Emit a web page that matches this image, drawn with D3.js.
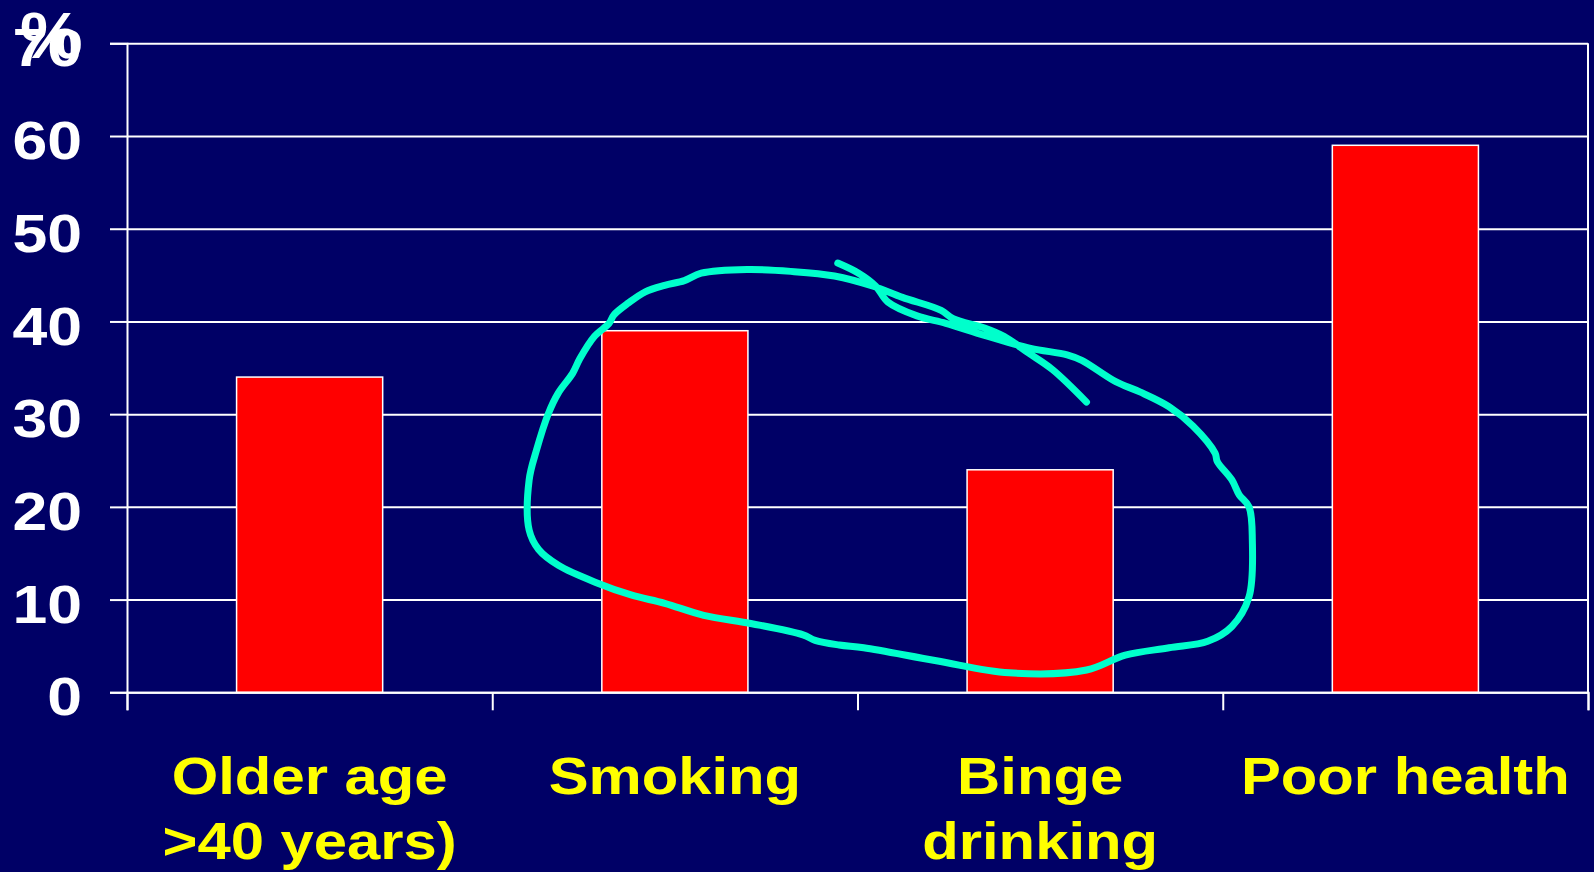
<!DOCTYPE html>
<html>
<head>
<meta charset="utf-8">
<script src="https://cdn.jsdelivr.net/npm/d3@7"></script>
<style>
  html, body { margin: 0; padding: 0; background: #000066; overflow: hidden; }
  text { font-family: "Liberation Sans", Arial, sans-serif; font-weight: bold; }
</style>
</head>
<body>
<svg id="chart" width="1594" height="872"></svg>
<script>
// chart data
var categories = ["Older age", "Smoking", "Binge drinking", "Poor health"];
var labelLines = [["Older age", ">40 years)"], ["Smoking"], ["Binge", "drinking"], ["Poor health"]];
var values = [34, 39, 24, 59];
var yTicks = [0, 10, 20, 30, 40, 50, 60, 70];
var yUnit = "%";

// hand drawn ring over the middle bars (x in category slots, y in %)
var annoX = [1.946, 2.003, 2.050, 2.083, 2.163, 2.242, 2.348, 2.474, 2.574, 2.614,
             2.707, 2.773, 2.853, 2.919, 2.979, 2.985, 3.025, 3.045, 3.072, 3.081,
             3.072, 3.025, 2.959, 2.853, 2.733, 2.627, 2.415, 2.216, 2.017, 1.950,
             1.884, 1.851, 1.711, 1.579, 1.472, 1.380, 1.287, 1.181, 1.127, 1.101,
             1.101, 1.121, 1.154, 1.181, 1.220, 1.240, 1.280, 1.320, 1.333, 1.373,
             1.419, 1.472, 1.526, 1.572, 1.698, 1.817, 1.937, 2.043, 2.123, 2.229,
             2.262, 2.348, 2.401, 2.468, 2.534, 2.627];
var annoY = [46.3, 45.2, 43.8, 42.1, 40.6, 39.8, 38.5, 37.1, 36.4, 35.8,
             33.5, 32.4, 30.8, 28.7, 25.8, 24.9, 22.9, 21.3, 20.0, 16.4,
             10.3, 7.1, 5.5, 4.8, 4.0, 2.4, 2.1, 3.4, 4.8, 5.1,
             5.6, 6.2, 7.4, 8.3, 9.6, 10.5, 11.8, 13.7, 15.4, 17.5,
             22.9, 26.1, 30.1, 32.3, 34.4, 36.0, 38.4, 39.8, 40.7, 42.0,
             43.2, 43.9, 44.4, 45.2, 45.6, 45.4, 44.9, 43.8, 42.6, 41.2,
             40.3, 39.3, 38.4, 36.6, 34.8, 31.3];

var svg = d3.select("#chart");
var plotLeft = 127, plotRight = 1588, plotTop = 43.3, plotBottom = 692.3;

var x = d3.scaleBand().domain(categories).range([plotLeft, plotRight])
    .paddingInner(0.6).paddingOuter(0.3);
var xPos = d3.scaleLinear().domain([0, categories.length]).range([plotLeft, plotRight]);
var y = d3.scaleLinear().domain([0, 70]).range([plotBottom, plotTop]);

// gridlines
svg.append("g")
    .attr("transform", "translate(" + plotLeft + ",0)")
    .call(d3.axisLeft(y).tickValues(yTicks).tickSize(-(plotRight - plotLeft)).tickFormat(""))
    .call(function(g){ g.select(".domain").remove(); })
    .selectAll("line").attr("stroke", "#ffffff").attr("stroke-width", 2);

// right border
svg.append("line")
    .attr("x1", plotRight).attr("x2", plotRight)
    .attr("y1", y(70)).attr("y2", y(0))
    .attr("stroke", "#ffffff").attr("stroke-width", 2);

// bars
svg.selectAll("rect.bar")
    .data(values)
    .enter().append("rect")
    .attr("class", "bar")
    .attr("x", function(d, i){ return x(categories[i]); })
    .attr("y", function(d){ return y(d); })
    .attr("width", x.bandwidth())
    .attr("height", function(d){ return y(0) - y(d); })
    .attr("fill", "#ff0000")
    .attr("stroke", "#ffffff")
    .attr("stroke-width", 1.5);

// y axis
var yAxis = svg.append("g")
    .attr("transform", "translate(" + plotLeft + ",0)")
    .call(d3.axisLeft(y).tickValues(yTicks).tickSize(17).tickPadding(0));
yAxis.select(".domain").attr("stroke", "#ffffff").attr("stroke-width", 2);
yAxis.selectAll(".tick line").attr("stroke", "#ffffff").attr("stroke-width", 2);
yAxis.selectAll(".tick text")
    .attr("x", 0).attr("dy", null)
    .attr("transform", "translate(-45,22.6) scale(1.18,1)")
    .attr("fill", "#ffffff")
    .attr("font-size", 53)
    .attr("text-anchor", "end")
    .style("font-family", "'Liberation Sans', Arial, sans-serif")
    .style("font-weight", "bold");

// % unit label, sits on top of the 70 as in the slide
svg.append("text")
    .attr("transform", "translate(20,58) scale(1.1,1)")
    .attr("fill", "#ffffff")
    .attr("font-size", 64)
    .text(yUnit);

// x axis with boundary ticks
var xAxis = svg.append("g")
    .attr("transform", "translate(0," + plotBottom + ")")
    .call(d3.axisBottom(xPos).tickValues(d3.range(categories.length + 1)).tickSize(18).tickFormat(""));
xAxis.select(".domain").attr("stroke", "#ffffff").attr("stroke-width", 2);
xAxis.selectAll(".tick line").attr("stroke", "#ffffff").attr("stroke-width", 2);

// category labels
svg.selectAll("g.catlabel")
    .data(labelLines)
    .enter().append("g")
    .attr("class", "catlabel")
    .each(function(lines, i){
        var cx = x(categories[i]) + x.bandwidth() / 2;
        d3.select(this).selectAll("text")
            .data(lines)
            .enter().append("text")
            .attr("transform", function(d, j){ return "translate(" + cx + "," + (794 + j * 64.5) + ") scale(1.15,1)"; })
            .attr("text-anchor", "middle")
            .attr("fill", "#ffff00")
            .attr("font-size", 52)
            .text(function(d){ return d; });
    });

// annotation ring
var ring = d3.line()
    .x(function(d){ return xPos(d[0]); })
    .y(function(d){ return y(d[1]); })
    .curve(d3.curveCatmullRom.alpha(0.5));
svg.append("path")
    .datum(d3.zip(annoX, annoY))
    .attr("d", ring)
    .attr("fill", "none")
    .attr("stroke", "#00ffcc")
    .attr("stroke-width", 7)
    .attr("stroke-linecap", "round")
    .attr("stroke-linejoin", "round");
</script>
</body>
</html>
